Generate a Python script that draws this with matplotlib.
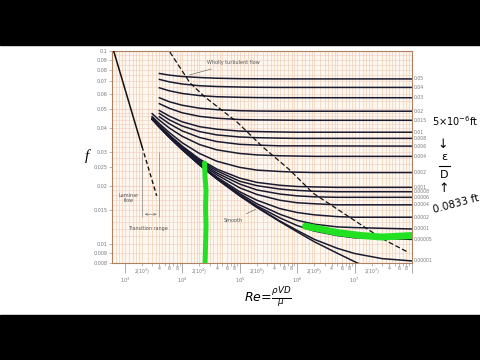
import matplotlib
matplotlib.use("Agg")
import matplotlib.pyplot as plt
from matplotlib.patches import Rectangle
from matplotlib.lines import Line2D

# --- values ---
# Reynolds numbers where the curves were read (big eps/D start at 4000)
re_big = [4e3, 6e3, 1e4, 2e4, 4e4, 1e5, 2e5, 5e5, 1e6, 1e8]
re_small = [3e3, 4e3, 6e3, 1e4, 2e4, 4e4, 1e5, 2e5, 5e5, 1e6, 2e6, 5e6, 1e7, 3e7, 1e8]
re_smooth = [3e3, 4e3, 6e3, 1e4, 2e4, 4e4, 1e5, 2e5, 5e5, 1e6, 2e6, 5e6, 1e7, 1.2e7]

f_0_05 = [0.0765, 0.0750, 0.0738, 0.0729, 0.0723, 0.0719, 0.0718, 0.0717, 0.0717, 0.0717]
f_0_04 = [0.0713, 0.0692, 0.0675, 0.0661, 0.0655, 0.0651, 0.0649, 0.0648, 0.0648, 0.0648]
f_0_03 = [0.0645, 0.0622, 0.0603, 0.0588, 0.0580, 0.0576, 0.0574, 0.0573, 0.0573, 0.0573]
f_0_02 = [0.0573, 0.0546, 0.0524, 0.0506, 0.0497, 0.0491, 0.0489, 0.0488, 0.0488, 0.0488]
f_0_015 = [0.0534, 0.0505, 0.0479, 0.0459, 0.0449, 0.0442, 0.0440, 0.0439, 0.0438, 0.0438]
f_0_01 = [0.0492, 0.0460, 0.0430, 0.0406, 0.0394, 0.0385, 0.0383, 0.0381, 0.0380, 0.0380]
f_0_008 = [0.0475, 0.0440, 0.0409, 0.0383, 0.0368, 0.0359, 0.0356, 0.0354, 0.0353, 0.0353]
f_0_006 = [0.0457, 0.0420, 0.0386, 0.0357, 0.0340, 0.0329, 0.0326, 0.0323, 0.0323, 0.0322]

f_0_004 = [0.0474, 0.0439, 0.0399, 0.0362, 0.0328, 0.0308, 0.0295, 0.0290, 0.0287,
           0.0286, 0.0285, 0.0285, 0.0285, 0.0285, 0.0285]
f_0_002 = [0.0458, 0.0421, 0.0378, 0.0335, 0.0295, 0.0269, 0.0250, 0.0242, 0.0238,
           0.0236, 0.0235, 0.0235, 0.0235, 0.0235, 0.0235]
f_0_001 = [0.0450, 0.0412, 0.0367, 0.0322, 0.0276, 0.0245, 0.0220, 0.0209, 0.0202,
           0.0199, 0.0198, 0.0197, 0.0197, 0.0197, 0.0197]
f_0_0008 = [0.0449, 0.0410, 0.0365, 0.0319, 0.0272, 0.0240, 0.0212, 0.0201, 0.0193,
            0.0190, 0.0188, 0.0187, 0.0187, 0.0187, 0.0187]
f_0_0006 = [0.0447, 0.0409, 0.0363, 0.0316, 0.0269, 0.0234, 0.0205, 0.0191, 0.0182,
            0.0178, 0.0176, 0.0175, 0.0175, 0.0175, 0.0175]
f_0_0004 = [0.0446, 0.0407, 0.0361, 0.0314, 0.0265, 0.0229, 0.0196, 0.0181, 0.0169,
            0.0164, 0.0162, 0.0160, 0.0160, 0.0160, 0.0160]
f_0_0002 = [0.0445, 0.0406, 0.0359, 0.0311, 0.0261, 0.0223, 0.0187, 0.0169, 0.0153,
            0.0146, 0.0142, 0.0139, 0.0138, 0.0138, 0.0138]
f_0_0001 = [0.0444, 0.0405, 0.0358, 0.0310, 0.0259, 0.0220, 0.0183, 0.0162, 0.0143,
            0.0133, 0.0127, 0.0123, 0.0122, 0.0121, 0.0120]
f_0_00005 = [0.0443, 0.0405, 0.0358, 0.0309, 0.0258, 0.0219, 0.0180, 0.0158, 0.0137,
             0.0125, 0.0117, 0.0111, 0.0108, 0.0107, 0.0106]
f_0_00001 = [0.0443, 0.0404, 0.0357, 0.0309, 0.0258, 0.0218, 0.0179, 0.0156, 0.0132,
             0.0118, 0.0106, 0.00953, 0.00896, 0.00843, 0.00820]
f_smooth = [0.0443, 0.0404, 0.0357, 0.0309, 0.0257, 0.0218, 0.0178, 0.0155, 0.0131,
            0.0116, 0.0103, 0.00899, 0.00813, 0.00793]

big_curves = [f_0_05, f_0_04, f_0_03, f_0_02, f_0_015, f_0_01, f_0_008, f_0_006]
small_curves = [f_0_004, f_0_002, f_0_001, f_0_0008, f_0_0006, f_0_0004,
                f_0_0002, f_0_0001, f_0_00005, f_0_00001]
eps_labels = ["0.05", "0.04", "0.03", "0.02", "0.015", "0.01", "0.008", "0.006",
              "0.004", "0.002", "0.001", "0.0008", "0.0006", "0.0004", "0.0002",
              "0.0001", "0.00005", "0.00001"]

# laminar line, solid then dashed
lam_re = [600, 2000]
lam_f = [0.107, 0.032]
lam_dash_re = [2000, 3600]
lam_dash_f = [0.032, 0.0178]

# wholly turbulent boundary (dashed)
wt_re = [6.1e3, 1.37e4, 2.49e4, 9.0e4, 2.55e5, 7.5e5, 1.89e6, 3.0e7, 8.5e7]
wt_f = [0.0988, 0.0683, 0.0578, 0.0429, 0.0318, 0.0242, 0.0184, 0.0107, 0.0091]

# green pen marks
green_v_re = [2.45e4, 2.5e4, 2.6e4, 2.55e4, 2.6e4, 2.55e4, 2.5e4]
green_v_f = [0.0263, 0.0222, 0.0190, 0.0155, 0.0125, 0.0100, 0.0080]
green_h_re = [1.4e6, 2.5e6, 5e6, 1.3e7, 3e7, 1e8]
green_h_f = [0.0124, 0.0120, 0.0115, 0.0111, 0.0109, 0.0111]

y_ticks = [0.1, 0.09, 0.08, 0.07, 0.06, 0.05, 0.04, 0.03, 0.025, 0.02, 0.015,
           0.01, 0.009, 0.008]
y_tick_labels = ["0.1", "0.09", "0.08", "0.07", "0.06", "0.05", "0.04", "0.03",
                 "0.025", "0.02", "0.015", "0.01", "0.009", "0.008"]
x_major = [1e3, 1e4, 1e5, 1e6, 1e7, 1e8]
x_major_labels = ["$10^3$", "$10^4$", "$10^5$", "$10^6$", "$10^7$", ""]

W, H = 480, 360
fig = plt.figure(figsize=(4.8, 3.6), dpi=100)
fig.patch.set_facecolor("white")

# video letterbox bars
fig.patches.append(Rectangle((0, 1 - 45 / H), 1, 45 / H, transform=fig.transFigure,
                             color="black", zorder=0))
fig.patches.append(Rectangle((0, 0), 1, 45 / H, transform=fig.transFigure,
                             color="black", zorder=0))

ax = fig.add_axes([112 / W, 97 / H, 300 / W, 212 / H])
ax.set_xscale("log")
ax.set_yscale("log")
ax.set_xlim(600, 1e8)
ax.set_ylim(0.008, 0.1)
ax.set_facecolor("#fdf7f0")

# graph-paper grid
vgrid = []
for k in range(2, 8):
    for n in [1, 1.2, 1.4, 1.6, 1.8, 2, 2.5, 3, 3.5, 4, 4.5, 5, 6, 7, 8, 9]:
        vgrid.append(n * 10 ** k)
hgrid = [0.008 + 0.001 * i for i in range(13)] + \
        [0.02 + 0.002 * i for i in range(16)] + \
        [0.05 + 0.005 * i for i in range(11)]
ax.vlines(vgrid, 0.008, 0.1, colors="#ebcdae", lw=0.45, zorder=1)
ax.hlines(hgrid, 600, 1e8, colors="#f2cec6", lw=0.45, zorder=1)

line_col = "#1a1a30"
for fs in big_curves:
    ax.plot(re_big, fs, color=line_col, lw=1.1, zorder=3)
for fs in small_curves:
    ax.plot(re_small, fs, color=line_col, lw=1.1, zorder=3)
ax.plot(re_smooth, f_smooth, color=line_col, lw=1.1, zorder=3)

ax.plot(lam_re, lam_f, color="#111111", lw=1.1, zorder=3)
ax.plot(lam_dash_re, lam_dash_f, color="#111111", lw=1.0, ls=(0, (3, 2)), zorder=3)
ax.plot(wt_re, wt_f, color="#111111", lw=0.9, ls=(0, (4, 2)), zorder=3)

# transition range markers
ax.vlines([2000, 4000], 0.0138, 0.030, colors="#888888", lw=0.5, zorder=2)
ax.annotate("", xy=(2000, 0.0143), xytext=(4000, 0.0143),
            arrowprops=dict(arrowstyle="<->", lw=0.4, color="#666666",
                            mutation_scale=4))

lab_col = "#555555"
ax.text(1190, 0.0173, "Laminar\nflow", fontsize=3.5, color=lab_col,
        ha="center", va="center", linespacing=1.1)
ax.text(2540, 0.0121, "Transition range", fontsize=3.5, color=lab_col,
        ha="center", va="center")
ax.annotate("Wholly turbulent flow", xy=(1.2e4, 0.0745), xytext=(2.7e4, 0.0867),
            fontsize=3.5, color=lab_col, ha="left", va="center",
            arrowprops=dict(arrowstyle="-", lw=0.4, color="#555555"))
ax.annotate("Smooth", xy=(2.1e5, 0.0154), xytext=(7.7e4, 0.0133),
            fontsize=3.5, color=lab_col, ha="center", va="center",
            arrowprops=dict(arrowstyle="-", lw=0.4, color="#555555"))

# green highlighter strokes
ax.plot(green_v_re, green_v_f, color="#22e022", lw=3.6, solid_capstyle="round",
        zorder=4)
ax.plot(green_h_re, green_h_f, color="#22e022", lw=5, solid_capstyle="round",
        zorder=4)

# right-hand eps/D labels at the curve ends
ends = [c[-1] for c in big_curves] + [c[-1] for c in small_curves]
for lab, fv in zip(eps_labels, ends):
    ax.text(1.006, fv, lab, transform=ax.get_yaxis_transform(), fontsize=3.3,
            color="#777777", ha="left", va="center", clip_on=False)

# axes, ticks
for sp in ax.spines.values():
    sp.set_color("#b08060")
    sp.set_linewidth(0.8)
ax.set_yticks(y_ticks, labels=y_tick_labels)
ax.yaxis.set_minor_locator(matplotlib.ticker.NullLocator())
ax.tick_params(axis="y", labelsize=3.5, labelcolor="#777777", length=2,
               width=0.4, color="#888888", pad=1)

minor_pos, minor_lab = [], []
for k in range(3, 8):
    for n in range(2, 10):
        minor_pos.append(n * 10 ** k)
        if n == 2:
            minor_lab.append("2(10$^{%d}$)" % k)
        elif n in (4, 6, 8):
            minor_lab.append(str(n))
        else:
            minor_lab.append("")
ax.set_xticks(x_major, labels=x_major_labels)
ax.set_xticks(minor_pos, labels=minor_lab, minor=True)
ax.tick_params(axis="x", which="major", labelsize=3.5, labelcolor="#777777",
               length=7, width=0.5, color="#888888", pad=2)
ax.tick_params(axis="x", which="minor", labelsize=3.3, labelcolor="#777777",
               length=2, width=0.4, color="#888888", pad=0.5)

# axis titles
fig.text(87 / W, 1 - 156 / H, "f", fontsize=11, family="Liberation Serif",
         style="italic", ha="center", va="center")
fig.text(268 / W, 1 - 298 / H, r"$Re\!=\!\frac{\rho V D}{\mu}$", fontsize=9,
         ha="center", va="center")

# handwritten notes
hw = dict(color="black", ha="center", va="center")
fig.text(455 / W, 1 - 121 / H, "5×10$^{-6}$ft", fontsize=7, **hw)
fig.text(443 / W, 1 - 145 / H, "↓", fontsize=9, **hw)
fig.text(444 / W, 1 - 157 / H, "ε", fontsize=8, **hw)
fig.lines.append(Line2D([439 / W, 450 / W], [1 - 166 / H, 1 - 166 / H],
                        transform=fig.transFigure, color="black", lw=0.8))
fig.text(444 / W, 1 - 175 / H, "D", fontsize=8, **hw)
fig.text(444 / W, 1 - 189 / H, "↑", fontsize=9, **hw)
fig.text(456 / W, 1 - 204 / H, "0.0833 ft", fontsize=7.5, rotation=15, **hw)

fig.savefig("out.png", dpi=100)
